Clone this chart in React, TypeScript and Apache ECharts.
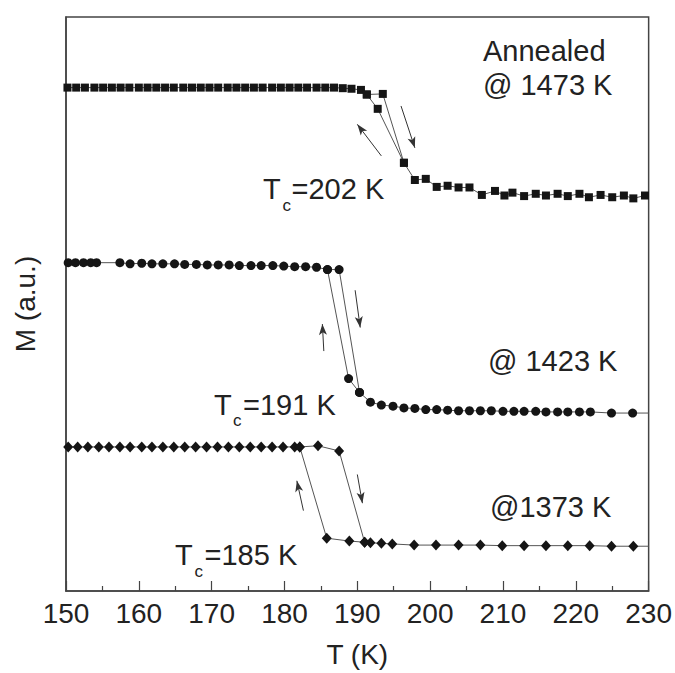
import React, { useEffect, useRef } from "react";
import * as echarts from "echarts";

// ---- data (T in K, M in arbitrary units) ----
const xTicks = [150, 160, 170, 180, 190, 200, 210, 220, 230];

const sq1473Heating: [number, number][] = [
  [150.2, 87.7], [151.4, 87.7], [152.6, 87.7], [153.9, 87.7], [155.1, 87.7], [156.3, 87.7],
  [157.5, 87.7], [158.7, 87.7], [160.0, 87.7], [161.2, 87.7], [162.4, 87.7], [163.6, 87.7],
  [164.8, 87.7], [166.1, 87.7], [167.3, 87.7], [168.5, 87.7], [169.7, 87.7], [170.9, 87.7],
  [172.2, 87.7], [173.4, 87.7], [174.6, 87.7], [175.8, 87.7], [177.0, 87.7], [178.3, 87.7],
  [179.5, 87.7], [180.7, 87.7], [181.9, 87.7], [183.1, 87.7], [184.4, 87.7], [185.6, 87.7],
  [186.8, 87.7], [188.0, 87.6], [189.2, 87.5], [190.5, 87.3],
  [191.3, 86.5], [193.5, 86.6], [196.4, 74.6], [197.9, 71.6], [199.4, 71.8], [200.9, 70.4],
  [202.4, 70.6], [203.9, 70.3], [205.4, 70.3], [207.1, 69.0], [208.9, 69.7], [210.2, 68.9],
  [211.3, 69.4], [212.9, 68.8], [214.5, 69.2], [215.9, 68.9], [217.5, 69.2], [218.9, 68.8],
  [220.5, 69.2], [221.8, 68.6], [223.4, 69.0], [225.0, 68.6], [226.6, 68.9], [227.9, 68.4],
  [229.5, 68.9],
];
const sq1473Cooling: [number, number][] = [
  [196.4, 74.6], [192.8, 84.0], [191.3, 86.5],
];

const ci1423Heating: [number, number][] = [
  [150.3, 57.2], [151.3, 57.2], [152.4, 57.2], [153.4, 57.2], [154.2, 57.2], [157.4, 57.2],
  [158.8, 57.0], [160.4, 57.1], [161.8, 57.0], [163.3, 57.0], [164.9, 57.0], [166.3, 56.9],
  [167.9, 56.9], [169.4, 56.8], [170.9, 56.8], [172.4, 56.8], [173.8, 56.7], [175.4, 56.7],
  [176.8, 56.7], [178.4, 56.7], [179.9, 56.6], [181.4, 56.5], [182.9, 56.5], [184.4, 56.4],
  [185.9, 56.0], [187.5, 56.0],
  [190.3, 34.6], [191.8, 32.9], [193.3, 32.4], [194.9, 32.2], [196.4, 31.9], [197.9, 31.8],
  [199.4, 31.6], [200.9, 31.6], [202.4, 31.5], [203.9, 31.4], [205.4, 31.4], [206.9, 31.4],
  [208.4, 31.4], [210.0, 31.3], [211.5, 31.3], [212.9, 31.3], [214.5, 31.3], [215.9, 31.2],
  [217.5, 31.2], [218.9, 31.2], [220.5, 31.2], [222.0, 31.2], [224.9, 31.0], [227.8, 31.0],
];
const ci1423Cooling: [number, number][] = [
  [190.3, 34.6], [188.8, 37.0], [185.9, 56.0],
];

const di1373Heating: [number, number][] = [
  [150.3, 25.1], [151.6, 25.1], [153.0, 25.1], [154.5, 25.1], [155.9, 25.1], [157.4, 25.1],
  [158.8, 25.1], [160.4, 25.1], [161.8, 25.1], [163.3, 25.1], [164.8, 25.1], [166.3, 25.1],
  [167.8, 25.1], [169.3, 25.1], [170.8, 25.1], [172.3, 25.1], [173.8, 25.1], [175.3, 25.1],
  [176.8, 25.1], [178.3, 25.1], [179.8, 25.1], [181.4, 25.1], [182.1, 25.1], [184.6, 25.3],
  [187.5, 24.4],
  [191.0, 8.5], [191.8, 8.4], [193.3, 8.3], [194.8, 8.2], [197.8, 8.0], [200.8, 8.0],
  [203.9, 8.0], [206.9, 8.0], [209.9, 7.9], [212.9, 7.9], [215.9, 7.9], [218.9, 7.9],
  [221.9, 7.9], [224.9, 7.8], [227.9, 7.8],
];
const di1373Cooling: [number, number][] = [
  [191.0, 8.5], [188.9, 8.7], [185.8, 9.2], [182.1, 25.1],
];

// line continues to the right frame (no marker)
const ci1423TailEnd: [number, number] = [230, 31.0];
const di1373TailEnd: [number, number] = [230, 7.8];

// arrows: [from, to]
const arrows1473: [number, number][][] = [
  [[193.3, 75.8], [190.0, 81.3]],
  [[196.0, 84.5], [197.9, 77.2]],
];
const arrows1423: [number, number][][] = [
  [[185.4, 41.8], [185.2, 46.5]],
  [[189.7, 52.4], [190.4, 45.9]],
];
const arrows1373: [number, number][][] = [
  [[182.6, 14.0], [181.7, 19.2]],
  [[190.0, 20.3], [190.7, 15.3]],
];

const FONT = "'Liberation Sans', Arial, Helvetica, sans-serif";
const NARROW = "'Liberation Sans Narrow', 'Arial Narrow', 'Liberation Sans', Arial, sans-serif";
const TXT = "#222";
const LINE = "#555";
const MARK = "#151515";

function arrowMarkLine(arrs: [number, number][][]) {
  return {
    silent: true,
    symbol: ["none", "arrow"],
    symbolSize: [6, 11],
    label: { show: false },
    lineStyle: { color: "#333", width: 1, type: "solid" },
    emphasis: { disabled: true },
    data: arrs.map((a) => [{ coord: a[0] }, { coord: a[1] }]),
  };
}

function lineSeries(name: string, data: any[], symbol: string, size: any, extra: any = {}) {
  return {
    name,
    type: "line",
    data,
    symbol,
    symbolSize: size,
    showSymbol: true,
    showAllSymbol: true,
    itemStyle: { color: MARK },
    lineStyle: { color: LINE, width: 1 },
    emphasis: { disabled: true },
    z: 3,
    ...extra,
  };
}

function txt(text: string, x: number, y: number, size = 29) {
  return {
    type: "text",
    x,
    y,
    silent: true,
    style: {
      text,
      fill: TXT,
      font: `${size}px ${FONT}`,
      align: "left",
      verticalAlign: "middle",
    },
  };
}

export default function App() {
  const ref = useRef<HTMLDivElement>(null);
  useEffect(() => {
    document.body.style.margin = "0";
    const chart = echarts.init(ref.current!, undefined, { renderer: "svg" });
    chart.setOption({
      animation: false,
      backgroundColor: "#fff",
      grid: {
        left: 66,
        right: 26,
        top: 17,
        bottom: 79,
        show: true,
        borderColor: "#444",
        borderWidth: 1.5,
        backgroundColor: "transparent",
      },
      xAxis: {
        type: "value",
        min: xTicks[0],
        max: xTicks[xTicks.length - 1],
        interval: 10,
        name: "T (K)",
        nameLocation: "middle",
        nameGap: 49,
        nameTextStyle: { fontFamily: FONT, fontSize: 28, color: TXT },
        axisLine: { show: true, lineStyle: { color: "#444", width: 1.5 } },
        axisTick: { show: true, inside: true, length: 10, lineStyle: { color: "#444", width: 1.2 } },
        minorTick: { show: true, splitNumber: 2, length: 5, lineStyle: { color: "#444", width: 1.2 } },
        axisLabel: { fontFamily: NARROW, fontSize: 28, color: TXT, margin: 8 },
        splitLine: { show: false },
      },
      yAxis: {
        type: "value",
        min: 0,
        max: 100,
        name: "M (a.u.)",
        nameLocation: "middle",
        nameGap: 27,
        nameRotate: 90,
        nameTextStyle: { fontFamily: FONT, fontSize: 28, color: TXT },
        axisLine: { show: true, lineStyle: { color: "#444", width: 1.5 } },
        axisTick: { show: false },
        axisLabel: { show: false },
        splitLine: { show: false },
      },
      series: [
        lineSeries("1473 K heating", sq1473Heating, "rect", 8, { markLine: arrowMarkLine(arrows1473) }),
        lineSeries("1473 K cooling", sq1473Cooling, "rect", 8),
        lineSeries(
          "1423 K heating",
          [...ci1423Heating, { value: ci1423TailEnd, symbol: "none" }],
          "circle",
          9,
          { markLine: arrowMarkLine(arrows1423) }
        ),
        lineSeries("1423 K cooling", ci1423Cooling, "circle", 9),
        lineSeries(
          "1373 K heating",
          [...di1373Heating, { value: di1373TailEnd, symbol: "none" }],
          "diamond",
          [10, 11],
          { markLine: arrowMarkLine(arrows1373) }
        ),
        lineSeries("1373 K cooling", di1373Cooling, "diamond", [10, 11]),
      ],
      graphic: [
        txt("Annealed", 483, 51),
        txt("@ 1473 K", 483, 84.5),
        txt("T", 263, 189),
        txt("c", 282.5, 205.5, 17),
        txt("=202 K", 291.5, 189),
        txt("@ 1423 K", 488, 361),
        txt("T", 214, 404.5),
        txt("c", 233, 420.5, 17),
        txt("=191 K", 243, 404.5),
        txt("@1373 K", 490, 506.5),
        txt("T", 175, 554.5),
        txt("c", 194.5, 571, 17),
        txt("=185 K", 204.5, 554.5),
      ],
    });
    return () => chart.dispose();
  }, []);
  return <div ref={ref} style={{ width: 675, height: 673 }} />;
}
